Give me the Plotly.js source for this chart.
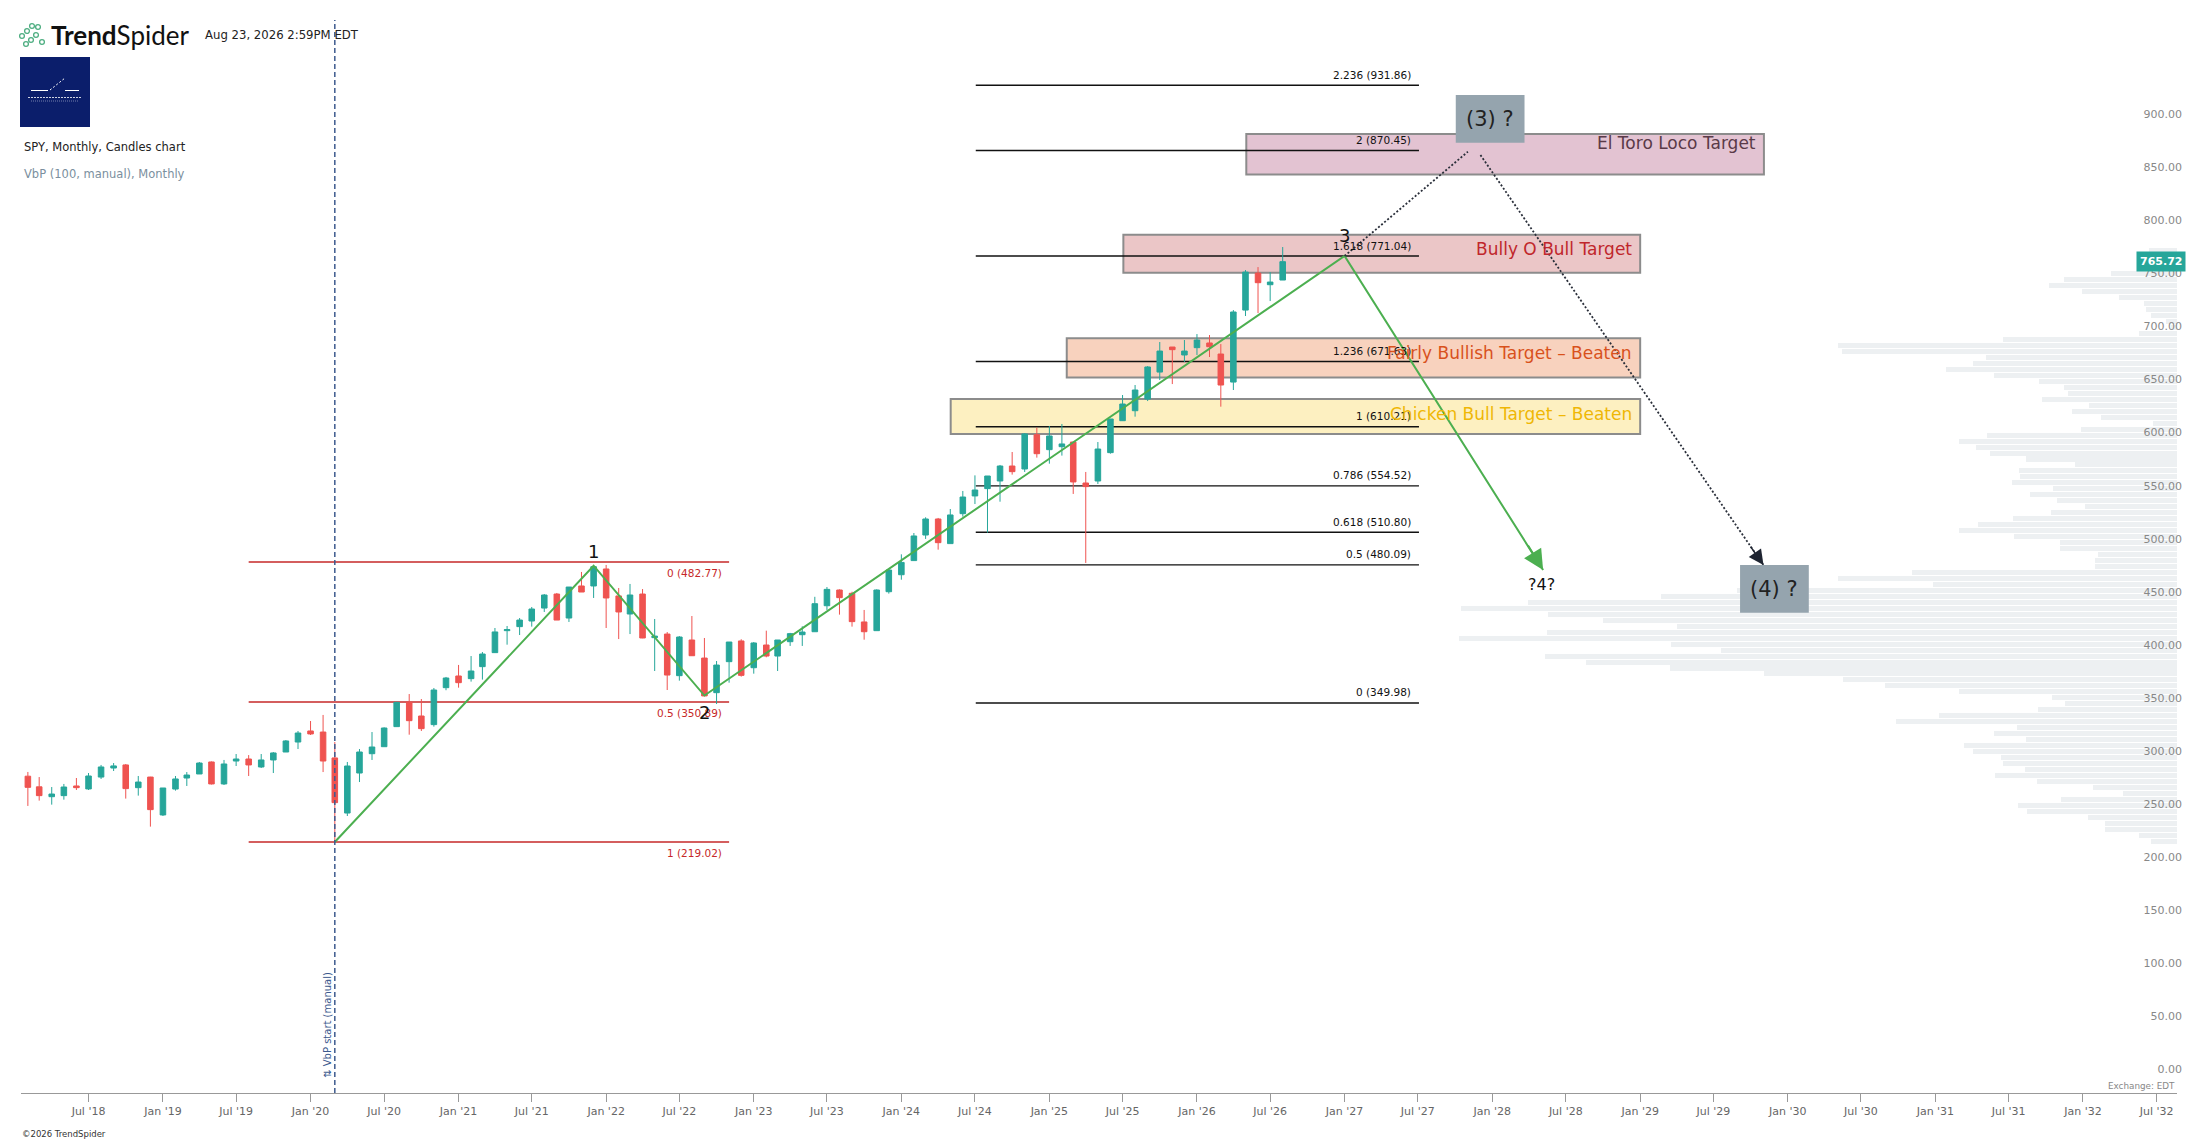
<!DOCTYPE html>
<html>
<head>
<meta charset="utf-8">
<script src="https://cdn.plot.ly/plotly-3.0.1.min.js"></script>
<style>html,body{margin:0;padding:0;background:#fff;}#chart{width:2207px;height:1139px;}</style>
</head>
<body>
<div id="chart"></div>
<script>
// ---------- DATA ----------
const months = [
'2018-02','2018-03','2018-04','2018-05','2018-06','2018-07','2018-08','2018-09','2018-10','2018-11','2018-12',
'2019-01','2019-02','2019-03','2019-04','2019-05','2019-06','2019-07','2019-08','2019-09','2019-10','2019-11','2019-12',
'2020-01','2020-02','2020-03','2020-04','2020-05','2020-06','2020-07','2020-08','2020-09','2020-10','2020-11','2020-12',
'2021-01','2021-02','2021-03','2021-04','2021-05','2021-06','2021-07','2021-08','2021-09','2021-10','2021-11','2021-12',
'2022-01','2022-02','2022-03','2022-04','2022-05','2022-06','2022-07','2022-08','2022-09','2022-10','2022-11','2022-12',
'2023-01','2023-02','2023-03','2023-04','2023-05','2023-06','2023-07','2023-08','2023-09','2023-10','2023-11','2023-12',
'2024-01','2024-02','2024-03','2024-04','2024-05','2024-06','2024-07','2024-08','2024-09','2024-10','2024-11','2024-12',
'2025-01','2025-02','2025-03','2025-04','2025-05','2025-06','2025-07','2025-08','2025-09','2025-10','2025-11','2025-12',
'2026-01','2026-02','2026-03','2026-04','2026-05','2026-06','2026-07','2026-08'];

const openP = [
281.0,271.0,261.7,262.7,271.8,269.0,280.2,288.7,291.6,270.2,280.2,
244.5,268.9,279.3,283.1,294.4,273.7,295.3,297.2,289.7,296.3,303.8,313.2,
323.6,322.6,298.2,246.3,284.0,302.2,308.8,327.7,350.6,337.7,329.6,364.4,
375.4,372.9,384.2,397.4,418.1,421.9,427.2,439.4,452.6,430.0,460.2,460.2,
476.2,450.8,433.8,452.6,411.5,414.9,375.7,409.3,392.3,359.7,388.9,408.4,
383.2,404.6,394.2,407.7,414.3,417.1,441.6,456.4,453.3,426.3,418.1,454.8,
470.8,484.1,508.2,523.3,500.1,528.3,545.0,551.9,559.1,573.2,570.4,602.7,
588.6,591.4,595.8,557.2,559.1,585.8,615.9,625.3,636.3,661.7,685.3,677.8,
684.7,689.1,678.7,652.3,720.1,755.0,744.0,748.4];
const highP = [
285.0,280.2,270.8,273.7,279.3,284.0,291.6,293.4,292.5,281.2,280.4,
269.9,281.2,284.9,294.4,294.9,296.3,301.9,300.9,301.9,303.8,315.1,323.6,
333.0,338.7,313.2,294.4,306.6,322.6,327.0,351.0,358.4,353.7,364.1,374.5,
385.8,394.2,398.0,420.6,422.5,430.0,440.4,452.6,453.6,459.2,473.4,478.4,
480.0,458.3,462.1,457.3,429.1,416.8,413.0,431.9,411.2,389.5,407.4,410.0,
407.4,418.1,409.3,416.0,422.2,450.0,459.2,457.0,454.8,437.6,457.0,476.2,
490.0,510.1,524.9,524.3,532.7,549.7,564.4,563.8,574.2,586.4,604.3,609.3,
610.9,612.8,595.8,567.6,595.8,617.5,640.1,649.5,667.4,690.0,685.3,691.9,
697.5,696.6,688.1,720.1,757.8,760.6,755.9,779.5];
const lowP = [
253.0,258.0,254.2,258.9,268.0,268.0,278.4,285.9,259.9,262.7,233.5,
243.5,267.4,271.8,283.1,273.2,272.7,290.6,281.2,288.7,284.0,303.8,306.6,
319.8,284.9,218.3,243.5,275.5,296.3,308.8,327.7,320.1,323.6,327.7,362.0,
364.4,370.1,372.0,397.4,404.9,414.0,421.9,435.7,428.1,426.3,454.5,448.9,
420.6,410.2,414.9,411.0,380.1,362.2,371.0,394.3,356.6,349.0,369.1,374.8,
377.6,393.0,380.1,403.7,403.7,417.1,437.6,433.2,421.9,409.6,418.1,453.0,
466.1,484.0,504.5,494.4,500.1,525.5,537.4,510.4,539.6,565.1,567.6,581.1,
575.4,583.0,546.9,481.9,556.3,584.8,615.6,619.7,634.4,654.2,650.4,671.2,
677.8,675.9,629.1,644.8,714.5,717.3,728.6,748.4];
const closeP = [
270.5,262.7,264.2,270.8,270.2,281.2,289.7,290.7,269.3,275.5,249.5,
269.9,278.4,282.1,293.4,273.7,292.5,297.2,291.6,296.3,302.9,314.2,321.7,
320.8,295.3,256.1,290.6,303.8,308.5,326.4,350.6,333.3,325.8,362.2,373.5,
369.1,380.1,396.1,416.9,419.1,428.1,438.5,451.7,428.1,459.2,454.5,478.4,
448.9,435.7,451.7,411.2,413.0,376.3,412.1,394.5,356.6,385.7,407.4,376.0,
406.5,394.2,409.3,415.3,416.8,443.5,457.0,449.2,426.6,417.1,456.4,475.2,
482.4,507.3,523.3,501.0,527.1,544.0,550.6,563.8,573.2,567.9,603.4,584.8,
601.5,594.0,558.2,553.8,589.2,617.5,631.6,644.8,666.5,681.5,682.8,681.5,
691.9,685.6,649.5,718.3,755.9,745.9,746.5,765.72];
const lastPrice = 765.72;

// Volume by price (100 rows, from lowest price row to highest), relative volume
const vpLow = 217.0, vpHigh = 779.5;
const vpVol = [
26.5,38.3,72.4,72.4,89.3,150,159.2,116.3,54.1,84.2,139.8,181.6,152,174.5,176,203.6,212.8,151.5,183.2,159.7,
280.6,237.8,138.8,111.7,125.5,217.9,291.8,334.2,413.3,506.6,590.8,632.1,455.6,506.1,718.4,630.1,500,574,629.1,716.3,
649,516.3,439.8,243.9,338.8,265.3,82.1,82.1,79.1,117.3,116.8,
163.3,218.4,199.5,164.3,126,92.3,119.9,146.9,124,165.3,157.1,158.2,102,151,186.7,201.5,218.4,190.3,96.4,24,
76,104.6,88.3,135.2,109.2,113.3,138.3,182.7,230.6,204.1,190.8,335.2,338.8,174,37.8,6,11,26,30.6,32.7,
57.7,94.9,128.1,113.3,66.3,30,30,35,27.6];

// Fibonacci extension (black) and retracement (red)
const fibExtLevels = ['2.236','2','1.618','1.236','1','0.786','0.618','0.5','0'];
const fibExtValues = [931.86,870.45,771.04,671.63,610.21,554.52,510.80,480.09,349.98];
const fibExtStart = '2024-07-03', fibExtEnd = '2027-07-04', fibExtLabelX = '2027-06-19';
const fibRetLevels = ['0','0.5','1'];
const fibRetValues = [482.77,350.89,219.02];
const fibRetStart = '2019-08-01', fibRetEnd = '2022-11-01', fibRetLabelX = '2022-10-20';

// Elliott wave path
const waveDates = ['2020-03-01','2021-12-01','2022-09-01','2027-01-01','2028-05-06'];
const waveValues = [219.02,479.3,357.0,771.04,475.2];
const waveLabels = ['1','2','3','?4?'];
const waveLabelDates = ['2021-12-01','2022-09-01','2027-01-02','2028-05-02'];
const waveLabelValues = [493.1,340.8,790.0,462.0];

// Target zones
const targetNames = ['El Toro Loco Target','Bully O Bull Target','Fairly Bullish Target \u2013 Beaten','Chicken Bull Target \u2013 Beaten'];
const targetLow = [847.7,755.3,656.7,603.4];
const targetHigh = [885.9,791.1,693.5,636.3];
const targetStart = ['2026-05-03','2025-07-03','2025-02-13','2024-05-02'];
const targetEnd = ['2029-11-03','2029-01-01','2029-01-01','2029-01-01'];
const targetTextY = [877.2,777.6,679.3,622.2];
const targetFill = ['#e3c3d2','#ebc6c7','#f8d2be','#fdf0c1'];
const targetTextColor = ['#5a3a48','#c0262c','#d8511c','#efb705'];

// Wave question boxes
const qNames = ['(3) ?','(4) ?'];
const qStart = ['2027-10-03','2029-09-05'];
const qEnd = ['2028-03-21','2030-02-22'];
const qLow = [877.7,435.0];
const qHigh = [922.6,479.9];
const qTextX = ['2027-12-26','2029-11-29'];
const qTextY = [900.2,457.4];

// Dotted projection
const dotDates = ['2027-01-01','2027-11-02','2027-12-03','2029-11-02'];
const dotValues = [771.04,869.3,866.2,479.9];

const yTicks = [0,50,100,150,200,250,300,350,400,450,500,550,600,650,700,750,800,850,900];

// ---------- LAYOUT HELPERS (plot area: left 21px, width 2156px, top 0, height 1093px) ----------
const PL = 21, PW = 2156, PH = 1093;
const px = v => (v - PL) / PW;
const py = v => 1 - v / PH;
const FONT = 'DejaVu Sans';

const traces = [];
// volume profile
const binW = (vpHigh - vpLow) / vpVol.length;
traces.push({
  type:'bar', orientation:'h', xaxis:'x2', yaxis:'y',
  x: vpVol, y: vpVol.map((_, i) => vpLow + (i + 0.5) * binW),
  width: binW * 0.84, marker:{color:'#edf0f2', line:{width:0}},
  hoverinfo:'skip', showlegend:false
});
// candles
traces.push({
  type:'candlestick', x: months.map(m => m + '-01'),
  open: openP, high: highP, low: lowP, close: closeP,
  increasing:{line:{color:'#26a69a', width:1}, fillcolor:'#26a69a'},
  decreasing:{line:{color:'#ef5350', width:1}, fillcolor:'#ef5350'},
  whiskerwidth:0, hoverinfo:'skip', showlegend:false
});
// wave line
traces.push({
  type:'scatter', mode:'lines', x: waveDates, y: waveValues,
  line:{color:'#4caf50', width:2}, hoverinfo:'skip', showlegend:false
});

const shapes = [];
const annotations = [];

// target zone boxes
targetNames.forEach((n, i) => {
  shapes.push({type:'rect', xref:'x', yref:'y', x0:targetStart[i], x1:targetEnd[i], y0:targetLow[i], y1:targetHigh[i],
    fillcolor:targetFill[i], line:{color:'#8c8c8c', width:2}, layer:'below'});
});
// fib extension lines
fibExtValues.forEach((v, i) => {
  shapes.push({type:'line', xref:'x', yref:'y', x0:fibExtStart, x1:fibExtEnd, y0:v, y1:v,
    line:{color:'#111', width:1.4}, layer:'below'});
  annotations.push({xref:'x', yref:'y', x:fibExtLabelX, y:v, xanchor:'right', yanchor:'middle', yshift:10.5,
    text: fibExtLevels[i] + ' (' + v.toFixed(2) + ')', showarrow:false, font:{family:FONT, size:10.5, color:'#111'}});
});
// fib retracement lines
fibRetValues.forEach((v, i) => {
  shapes.push({type:'line', xref:'x', yref:'y', x0:fibRetStart, x1:fibRetEnd, y0:v, y1:v,
    line:{color:'#c62828', width:1.4}, layer:'below'});
  annotations.push({xref:'x', yref:'y', x:fibRetLabelX, y:v, xanchor:'right', yanchor:'middle', yshift:-11,
    text: fibRetLevels[i] + ' (' + v.toFixed(2) + ')', showarrow:false, font:{family:FONT, size:10.5, color:'#c62828'}});
});
// target texts
targetNames.forEach((n, i) => {
  annotations.push({xref:'x', yref:'y', x:targetEnd[i], y:targetTextY[i], xanchor:'right', yanchor:'middle', xshift:-6,
    text:n, showarrow:false, font:{family:FONT, size:17, color:targetTextColor[i]}});
});
// VbP start dashed line
shapes.push({type:'line', xref:'x', yref:'paper', x0:'2020-03-01', x1:'2020-03-01', y0:0, y1:py(20),
  line:{color:'#3d5a8e', width:1.5, dash:'5px,3px'}, layer:'above'});
annotations.push({xref:'x', yref:'paper', x:'2020-03-01', xshift:-8, y:py(1080), textangle:-90,
  text:'\u21C5 VbP start (manual)', showarrow:false, font:{family:FONT, size:10, color:'#3d5a8e'}});
// dotted projections
shapes.push({type:'line', xref:'x', yref:'y', x0:dotDates[0], y0:dotValues[0], x1:dotDates[1], y1:dotValues[1],
  line:{color:'#2a2f3a', width:1.8, dash:'2px,2px'}});
shapes.push({type:'line', xref:'x', yref:'y', x0:dotDates[2], y0:dotValues[2], x1:dotDates[3], y1:dotValues[3],
  line:{color:'#2a2f3a', width:1.8, dash:'2px,2px'}});
annotations.push({xref:'x', yref:'y', x:dotDates[3], y:dotValues[3], ax:-14, ay:-20, text:'', showarrow:true,
  arrowhead:2, arrowsize:2, arrowwidth:1.5, arrowcolor:'#1e2431'});
// green arrow head
annotations.push({xref:'x', yref:'y', x:waveDates[4], y:waveValues[4], ax:-16, ay:-26, text:'', showarrow:true,
  arrowhead:2, arrowsize:2, arrowwidth:2, arrowcolor:'#4caf50'});
// wave labels
waveLabels.forEach((t, i) => {
  annotations.push({xref:'x', yref:'y', x:waveLabelDates[i], y:waveLabelValues[i], text:t, showarrow:false,
    font:{family:FONT, size: i < 3 ? 18 : 16, color:'#111'}});
});
// question boxes
qNames.forEach((t, i) => {
  shapes.push({type:'rect', xref:'x', yref:'y', x0:qStart[i], x1:qEnd[i], y0:qLow[i], y1:qHigh[i],
    fillcolor:'#95a4ae', line:{width:0}});
  annotations.push({xref:'x', yref:'y', x:qTextX[i], y:qTextY[i], text:t, showarrow:false,
    font:{family:FONT, size:21, color:'#222'}});
});
// price tag
annotations.push({xref:'paper', yref:'y', x:1, y:lastPrice, xanchor:'right', yanchor:'middle', xshift:9,
  text:'<b>' + lastPrice.toFixed(2) + '</b>', showarrow:false, bgcolor:'#26a69a', borderpad:3,
  font:{family:FONT, size:11, color:'#fff'}});

// ---------- header / footer ----------
// logo icon
const logoDots = [[22,36],[27,31],[32,26],[38,27],[31,40],[36,35],[42,42],[26,44]];
logoDots.forEach(d => {
  shapes.push({type:'circle', xref:'paper', yref:'paper', xsizemode:'pixel', ysizemode:'pixel',
    xanchor:px(d[0]), yanchor:py(d[1]), x0:-2.4, x1:2.4, y0:-2.4, y1:2.4,
    line:{color:'#4fae82', width:1.3}, fillcolor:'rgba(0,0,0,0)'});
});
annotations.push({xref:'paper', yref:'paper', x:px(49), y:py(35), xanchor:'left', yanchor:'middle',
  text:'<b>Trend</b>Spider', showarrow:false, font:{family:'Lato', size:26, color:'#111'}});
annotations.push({xref:'paper', yref:'paper', x:px(203), y:py(35), xanchor:'left', yanchor:'middle',
  text:'Aug 23, 2026 2:59PM EDT', showarrow:false, font:{family:FONT, size:11.7, color:'#222'}});
// navy badge
shapes.push({type:'rect', xref:'paper', yref:'paper', x0:px(20), x1:px(90), y0:py(127), y1:py(57),
  fillcolor:'#0b1e6b', line:{width:0}});
shapes.push({type:'line', xref:'paper', yref:'paper', x0:px(31), x1:px(48), y0:py(90.5), y1:py(90.5), line:{color:'#fff', width:1}});
shapes.push({type:'line', xref:'paper', yref:'paper', x0:px(65), x1:px(79), y0:py(90.5), y1:py(90.5), line:{color:'#fff', width:1}});
shapes.push({type:'line', xref:'paper', yref:'paper', x0:px(50), x1:px(65), y0:py(90), y1:py(78), line:{color:'#fff', width:1, dash:'2px,2px'}});
shapes.push({type:'line', xref:'paper', yref:'paper', x0:px(28), x1:px(82), y0:py(97.5), y1:py(97.5), line:{color:'rgba(255,255,255,0.8)', width:1.2, dash:'2px,1px'}});
shapes.push({type:'line', xref:'paper', yref:'paper', x0:px(31), x1:px(78), y0:py(101), y1:py(101), line:{color:'rgba(255,255,255,0.55)', width:0.8, dash:'1px,1px'}});
annotations.push({xref:'paper', yref:'paper', x:px(22), y:py(147), xanchor:'left', yanchor:'middle',
  text:'SPY, Monthly, Candles chart', showarrow:false, font:{family:FONT, size:11.5, color:'#222'}});
annotations.push({xref:'paper', yref:'paper', x:px(22), y:py(174), xanchor:'left', yanchor:'middle',
  text:'VbP (100, manual), Monthly', showarrow:false, font:{family:FONT, size:11.5, color:'#7b8f9e'}});
annotations.push({xref:'paper', yref:'paper', x:1, y:py(1086), xanchor:'right', yanchor:'middle',
  text:'Exchange: EDT', showarrow:false, font:{family:FONT, size:8.8, color:'#888'}});
annotations.push({xref:'paper', yref:'paper', x:px(20), y:py(1134), xanchor:'left', yanchor:'middle',
  text:'\u00A92026 TrendSpider', showarrow:false, font:{family:FONT, size:8.5, color:'#333'}});

const layout = {
  width:2207, height:1139,
  margin:{l:PL, r:2207 - PL - PW, t:0, b:1139 - PH},
  paper_bgcolor:'#fff', plot_bgcolor:'#fff',
  showlegend:false, dragmode:false, bargap:0,
  xaxis:{type:'date', range:['2018-01-15','2032-08-20 12:00'], rangeslider:{visible:false},
    tick0:'2018-07-01', dtick:'M6', tickformat:"%b '%y", ticks:'outside', ticklen:8, tickcolor:'#999',
    showline:true, linecolor:'#999', linewidth:1, showgrid:false, zeroline:false,
    tickfont:{family:FONT, size:11, color:'#666'}, fixedrange:true},
  xaxis2:{overlaying:'x', range:[PW, 0], visible:false, fixedrange:true},
  yaxis:{side:'right', range:[-17.43, 1012.2], tickvals:yTicks, ticktext:yTicks.map(v => v.toFixed(2)),
    ticklabelposition:'inside', ticklabelstandoff:-8, ticklabelshift:-5, ticklabeloverflow:'allow',
    ticks:'', showgrid:false, zeroline:false, showline:false,
    tickfont:{family:FONT, size:11, color:'#888'}, fixedrange:true},
  shapes: shapes, annotations: annotations
};

Plotly.newPlot('chart', traces, layout, {displayModeBar:false, staticPlot:true});
</script>
</body>
</html>
